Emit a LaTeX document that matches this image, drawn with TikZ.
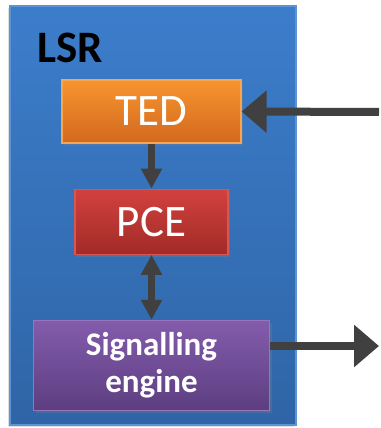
\documentclass[tikz,border=0pt]{standalone}
\usepackage{fontspec}
\setmainfont{Carlito}
\usetikzlibrary{arrows.meta, positioning, shadows}
\definecolor{lsrtop}{HTML}{3C7DCB}
\definecolor{lsrbot}{HTML}{2F65A6}
\definecolor{lsredge}{HTML}{5C93D4}
\definecolor{tedtop}{HTML}{F8942F}
\definecolor{tedbot}{HTML}{D2691F}
\definecolor{tededge}{HTML}{F9A44E}
\definecolor{pcetop}{HTML}{D2413D}
\definecolor{pcebot}{HTML}{A12B28}
\definecolor{pceedge}{HTML}{D85552}
\definecolor{sigtop}{HTML}{835CAC}
\definecolor{sigbot}{HTML}{5D3E80}
\definecolor{sigedge}{HTML}{9674BE}
\definecolor{arrowgray}{HTML}{404040}
\tikzset{
  router/.style={rectangle, top color=lsrtop, bottom color=lsrbot, draw=lsredge,
    line width=1.2pt, minimum width=286pt, minimum height=419pt,
    drop shadow={shadow xshift=-2pt, shadow yshift=-2pt, opacity=0.25}},
  block/.style={rectangle, inner sep=0pt, line width=1.2pt, text=white,
    font=\fontsize{45}{50}\selectfont,
    drop shadow={shadow xshift=2pt, shadow yshift=-3pt, opacity=0.3}},
  ted/.style={block, top color=tedtop, bottom color=tedbot, draw=tededge,
    minimum width=179pt, minimum height=63pt},
  pce/.style={block, top color=pcetop, bottom color=pcebot, draw=pceedge,
    minimum width=153pt, minimum height=65pt},
  engine/.style={block, top color=sigtop, bottom color=sigbot, draw=sigedge,
    minimum width=236pt, minimum height=90pt, align=center,
    font=\fontsize{33}{37}\selectfont\bfseries},
  bigarrow/.style={-{Triangle[length=25pt,width=41pt]}, line width=8pt, draw=arrowgray},
  smallarrow/.style={-{Triangle[length=20pt,width=20pt]}, line width=7pt, draw=arrowgray}
}
\begin{document}
\begin{tikzpicture}[x=1pt, y=-1pt]
\useasboundingbox (0,0) rectangle (380,428);

\node (lsr)  [router] at (153,215.5) {};
\node (name) [anchor=base west, inner sep=0pt, font=\fontsize{45}{50}\selectfont\bfseries]
  at (37,63) {LSR};

\node (ted) [ted] at (151.5,111.5) {TED};
\node (pce) [pce, below=45pt of ted] {PCE};
\node (sig) [engine, below=65pt of pce] {Signalling\\engine};

\coordinate (in)  at (379,112);
\coordinate (out) at (379,346);

\draw [bigarrow] (in) -- (ted.east);
\draw [smallarrow] (ted) -- (pce);
\draw [smallarrow, {Triangle[length=20pt,width=20pt]}-{Triangle[length=20pt,width=20pt]}] (pce) -- (sig);
\draw [bigarrow] (sig.east |- out) -- (out);
\end{tikzpicture}
\end{document}
